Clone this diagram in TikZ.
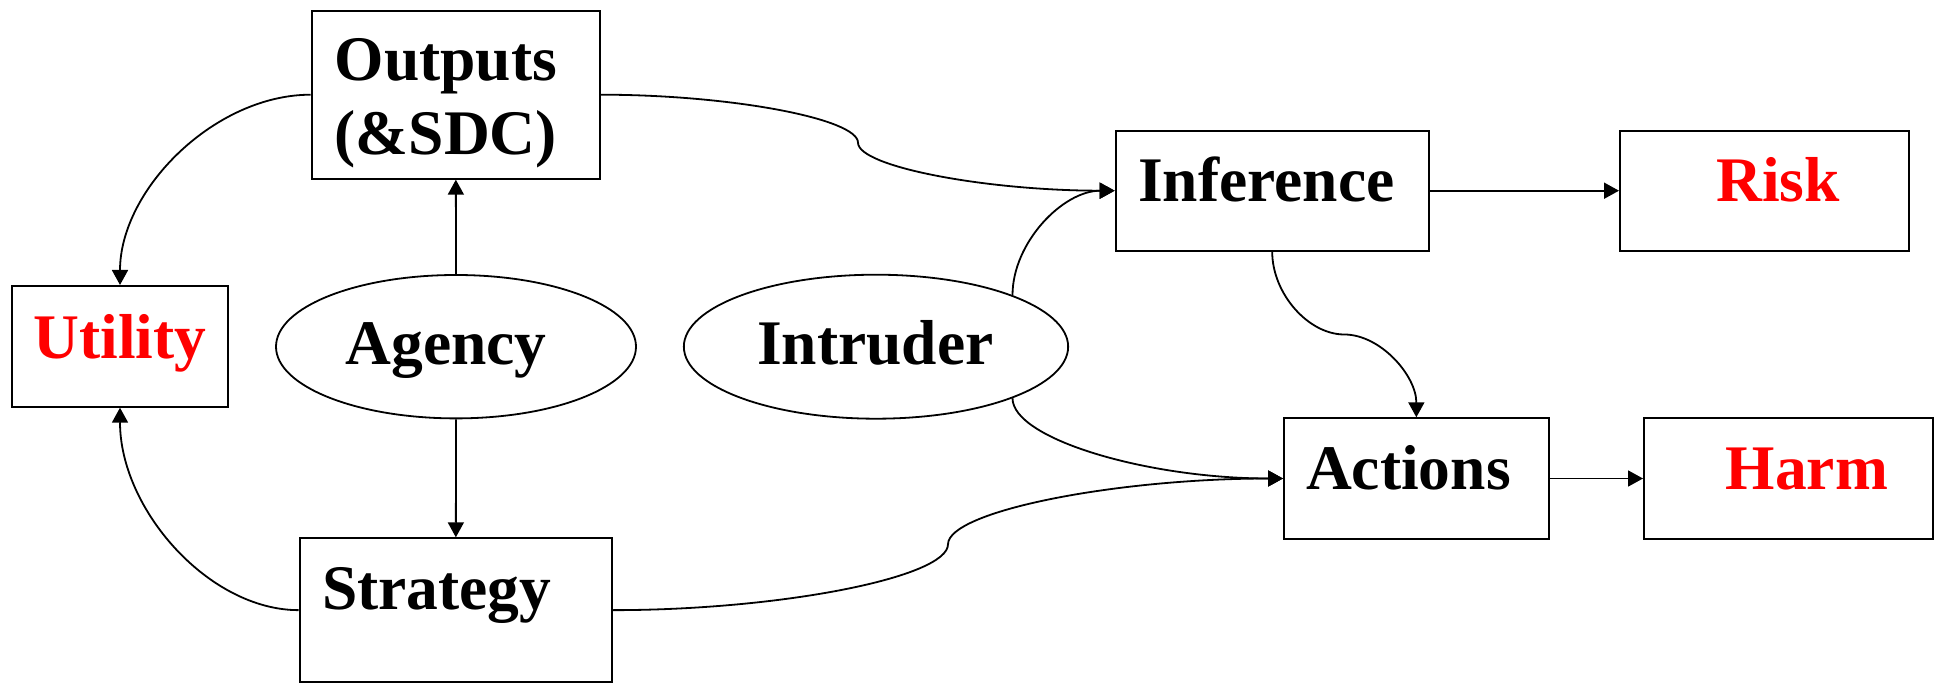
\documentclass[tikz,border=0pt]{standalone}
\usepackage{fontspec}
\setmainfont{Liberation Serif}
\usetikzlibrary{arrows.meta,shapes.geometric}

\begin{document}
\begin{tikzpicture}[
    x=0.5pt, y=-0.5pt,
    box/.style={draw, line width=1pt, rectangle, inner sep=0pt},
    blob/.style={draw, line width=0.9pt, ellipse, inner sep=0pt},
    word/.style={anchor=base west, inner sep=0pt, font=\fontsize{31.75}{37}\selectfont\bfseries},
    hot/.style={word, text=red},
    link/.style={line width=0.9pt, -{Triangle[length=7.5pt,width=8pt]}}
]
    \useasboundingbox (0,0) rectangle (1948,683);

    % Left side: agency, outputs, strategy, utility
    \node[box, minimum width=144.15pt, minimum height=84pt] (outputs) at (455.85,94.7) {};
    \node[word] (outputs1) at (334.3,81) {Outputs};
    \node[word] (outputs2) at (334.3,155) {(\&SDC)};
    \node[box, minimum width=108.3pt, minimum height=60.35pt] (utility) at (120,346.35) {};
    \node[hot] (utilitytxt) at (33.3,359) {Utility};
    \node[blob, minimum width=180pt, minimum height=71.7pt] (agency) at (456,346.7) {};
    \node[word] (agencytxt) at (345,364.7) {Agency};
    \node[box, minimum width=156.15pt, minimum height=71.85pt] (strategy) at (455.85,610.15) {};
    \node[word] (strategytxt) at (321.7,610) {Strategy};

    % Right side: intruder, inference, actions
    \node[blob, minimum width=192.15pt, minimum height=72pt] (intruder) at (876,346.7) {};
    \node[word] (intrudertxt) at (756.7,364.7) {Intruder};
    \node[box, minimum width=156.5pt, minimum height=60pt] (inference) at (1272.2,190.7) {};
    \node[word] (inferencetxt) at (1137.7,201.7) {Inference};
    \node[box, minimum width=144.35pt, minimum height=60pt] (risk) at (1764.35,190.7) {};
    \node[hot] (risktxt) at (1716,201.7) {Risk};
    \node[box, minimum width=132.35pt, minimum height=60.2pt] (actions) at (1416.35,478.5) {};
    \node[word] (actionstxt) at (1305.7,490) {Actions};
    \node[box, minimum width=144.5pt, minimum height=60.2pt] (harm) at (1788.5,478.5) {};
    \node[hot] (harmtxt) at (1725.3,490) {Harm};

    % bends of the s-shaped links
    \coordinate (bendA) at (858,142.7);
    \coordinate (bendB) at (948,544.3);
    \coordinate (bendC) at (1344.3,334.5);

    % Links
    \draw[link] (agency.north) -- (outputs.south);
    \draw[link] (agency.south) -- (strategy.north);
    \draw[link] (outputs.west) .. controls +(-95.85,0) and +(0,-95.65) .. (utility.north);
    \draw[link] (strategy.west) .. controls +(-89.85,0) and +(0,101.7) .. (utility.south);
    \draw[link] (outputs.east) .. controls +(129,0) and +(0,-24) .. (bendA)
        .. controls +(0,24) and +(-128.5,0) .. (inference.west);
    \draw[link] (strategy.east) .. controls +(168,0) and +(0,32.9) .. (bendB)
        .. controls +(0,-32.9) and +(-168,0) .. (actions.west);
    \draw[link] (intruder.north east) .. controls +(0,-52.5) and +(-51.9,0) .. (inference.west);
    \draw[link] (intruder.south east) .. controls +(0,40.5) and +(-136,0) .. (actions.west);
    \draw[link] (inference.south) .. controls +(0,41.9) and +(-36,0) .. (bendC)
        .. controls +(36,0) and +(0,-41.9) .. (actions.north);
    \draw[link] (inference.east) -- (risk.west);
    \draw[link] (actions.east) -- (harm.west);
\end{tikzpicture}
\end{document}
